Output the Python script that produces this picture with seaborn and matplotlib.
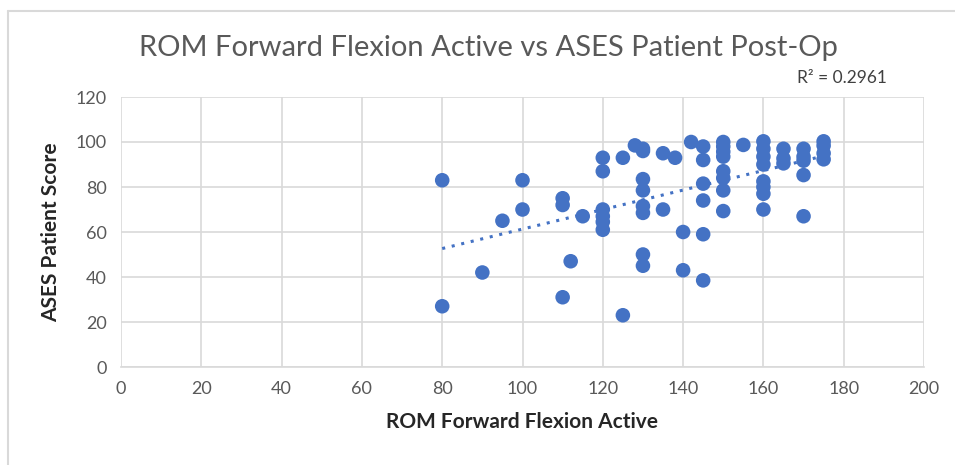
import numpy as np
import pandas as pd
import matplotlib
matplotlib.use("Agg")
import matplotlib.pyplot as plt
import seaborn as sns
from matplotlib.lines import Line2D

# ROM forward flexion (x) and ASES score (y)
rom = [80, 80, 90, 95, 100, 100, 110, 110, 110, 112, 115,
       120, 120, 120, 120, 120, 120,
       125, 125, 128,
       130, 130, 130, 130, 130, 130, 130, 130,
       135, 135, 138, 140, 140, 142,
       145, 145, 145, 145, 145, 145,
       150, 150, 150, 150, 150, 150, 150, 150,
       155,
       160, 160, 160, 160, 160, 160, 160, 160,
       165, 165, 165,
       170, 170, 170, 170, 170,
       175, 175, 175, 175]
ases = [83, 27, 42, 65, 83, 70, 75, 72, 31, 47, 67,
        93, 87, 70, 67, 64.5, 61,
        93, 23, 98.5,
        97, 96, 83.5, 78.5, 71.5, 68.5, 50, 45,
        95, 70, 93, 60, 43, 100,
        98, 92, 81.5, 74, 59, 38.5,
        100, 98, 95.7, 93.5, 87, 84, 78.5, 69.3,
        98.7,
        100.3, 97, 93.5, 90, 82.5, 80, 77, 70,
        97, 92.7, 90.5,
        97, 93.5, 91.7, 85.3, 67,
        100.3, 98.4, 95, 92.3]
r2_text = "R² = 0.2961"

df = pd.DataFrame({"ROM": rom, "ASES": ases})

sns.set_style("white")
plt.rcParams["font.family"] = ["Lato", "DejaVu Sans"]

fig = plt.figure(figsize=(9.55, 4.65), dpi=100)
ax = fig.add_axes([121 / 955, 1 - 367 / 465, 803 / 955, 270 / 465])

blue = "#4472C4"
sns.scatterplot(data=df, x="ROM", y="ASES", ax=ax, color=blue, s=110,
                edgecolor="none", zorder=3)

# linear trendline over the data range
slope, intercept = np.polyfit(df["ROM"], df["ASES"], 1)
xs = np.array([df["ROM"].min(), df["ROM"].max()])
ax.plot(xs, slope * xs + intercept, color=blue, linestyle=(0, (1, 2.2)),
        linewidth=2.2, zorder=2)

ax.set_xlim(0, 200)
ax.set_ylim(0, 120)
ax.set_xticks(range(0, 201, 20))
ax.set_yticks(range(0, 121, 20))
ax.grid(True, color="#D9D9D9", linewidth=1.2)
ax.set_axisbelow(True)
for side in ["top", "right", "left"]:
    ax.spines[side].set_visible(False)
ax.spines["bottom"].set_color("#D9D9D9")
ax.spines["bottom"].set_linewidth(1.2)
ax.tick_params(axis="both", length=0, labelsize=13, colors="#595959", pad=10)

ax.set_xlabel("ROM Forward Flexion Active", fontsize=15, fontweight="bold",
              color="#262626", labelpad=11)
ax.set_ylabel("ASES Patient Score", fontsize=15, fontweight="bold",
              color="#262626", labelpad=11)

fig.text(488 / 955, 1 - 48 / 465, "ROM Forward Flexion Active vs ASES Patient Post-Op",
         ha="center", va="center", fontsize=21, color="#595959")
fig.text(887 / 955, 1 - 78 / 465, r2_text, ha="right", va="center",
         fontsize=12.5, color="#404040")

# chart area border
fig.add_artist(Line2D([8 / 955, 1], [1 - 11 / 465, 1 - 11 / 465],
                      transform=fig.transFigure, color="#D9D9D9", linewidth=1.5))
fig.add_artist(Line2D([8 / 955, 8 / 955], [0, 1 - 11 / 465],
                      transform=fig.transFigure, color="#D9D9D9", linewidth=1.5))

fig.savefig("out.png", dpi=100)
